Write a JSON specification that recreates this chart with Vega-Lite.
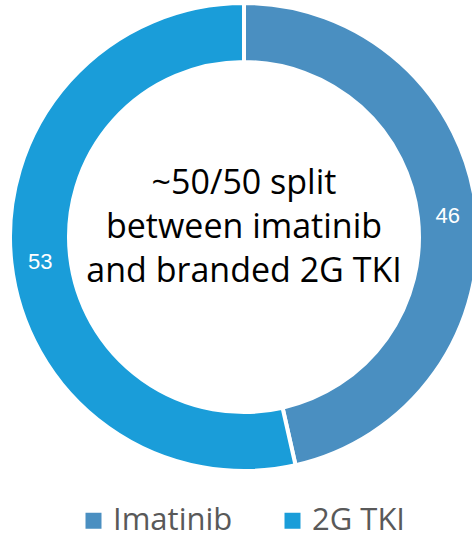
{
  "$schema": "https://vega.github.io/schema/vega-lite/v6.json",
  "width": 488,
  "height": 474,
  "autosize": {"type": "none"},
  "padding": {"left": 0, "top": 0, "right": 0, "bottom": 64},
  "background": "white",
  "config": {"view": {"stroke": null}},
  "data": {
    "values": [
      {"group": "Imatinib", "value": 46, "order": 1},
      {"group": "2G TKI", "value": 53, "order": 2}
    ]
  },
  "layer": [
    {
      "mark": {"type": "arc", "outerRadius": 234, "innerRadius": 175, "stroke": "white", "strokeWidth": 4},
      "encoding": {
        "theta": {"field": "value", "type": "quantitative", "stack": true},
        "order": {"field": "order", "type": "quantitative"},
        "color": {
          "field": "group",
          "type": "nominal",
          "scale": {"domain": ["Imatinib", "2G TKI"], "range": ["#4A8FC1", "#1A9DD9"]},
          "legend": {
            "orient": "none",
            "legendX": 78,
            "legendY": 505,
            "direction": "horizontal",
            "title": null,
            "padding": 0,
            "symbolType": "square",
            "symbolSize": 256,
            "symbolStrokeWidth": 0,
            "labelFont": "Open Sans",
            "labelFontSize": 31,
            "labelColor": "#595959",
            "labelOffset": 4,
            "columnPadding": 44
          }
        }
      }
    },
    {
      "mark": {"type": "text", "radius": 205, "color": "white", "fontSize": 22, "font": "Liberation Sans", "dy": 2},
      "encoding": {
        "theta": {"field": "value", "type": "quantitative", "stack": true},
        "order": {"field": "order", "type": "quantitative"},
        "text": {"field": "value", "type": "quantitative"}
      }
    },
    {
      "data": {"values": [{"caption": "~50/50 split|between imatinib|and branded 2G TKI"}]},
      "mark": {"type": "text", "font": "Open Sans", "fontSize": 34, "lineHeight": 44, "lineBreak": "|", "color": "black", "baseline": "middle", "align": "center", "dy": -53},
      "encoding": {
        "text": {"field": "caption", "type": "nominal"}
      }
    }
  ]
}
